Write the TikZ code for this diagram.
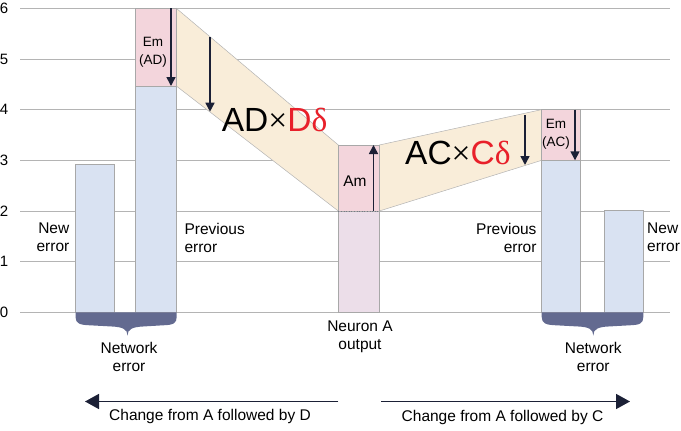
\documentclass[tikz,border=0pt]{standalone}
\usepackage{fontspec}
\setmainfont{Liberation Sans}
\newfontfamily\serifd{Liberation Serif}
\usetikzlibrary{arrows.meta}
\definecolor{gridc}{HTML}{B4B4B4}
\definecolor{barblue}{HTML}{D9E2F2}
\definecolor{barpink}{HTML}{F3D5DC}
\definecolor{lowpink}{HTML}{ECDEE9}
\definecolor{bandc}{HTML}{F9EDD9}
\definecolor{bracec}{HTML}{636A90}
\definecolor{edgec}{HTML}{A8A8A8}
\definecolor{arrowc}{HTML}{1B2036}
\definecolor{redd}{HTML}{E8202A}
\tikzset{
  gridline/.style={draw=gridc, line width=0.9pt},
  barb/.style={fill=barblue, draw=edgec, line width=0.8pt},
  barp/.style={fill=barpink, draw=edgec, line width=0.8pt},
  barl/.style={fill=lowpink, draw=edgec, line width=0.8pt},
  bandstyle/.style={fill=bandc, draw=gridc, line width=0.5pt},
  bracestyle/.style={fill=bracec, draw=none},
  varrow/.style={draw=arrowc, line width=1.6pt, -{Triangle[length=9pt,width=9pt]}},
  harrow/.style={draw=arrowc, line width=1.6pt, -{Triangle[length=14pt,width=15pt]}},
  lbl/.style={font=\fontsize{15.5}{18}\selectfont, inner sep=0pt, text=black},
  smalllbl/.style={font=\fontsize{13.5}{18}\selectfont, inner sep=0pt, align=center},
  axislbl/.style={font=\fontsize{15}{18}\selectfont, inner sep=0pt},
  biglbl/.style={font=\fontsize{33.5}{36}\selectfont, inner sep=0pt, anchor=base west},
}
\newcommand{\thintimes}{{\serifd ×}}
\begin{document}
\begin{tikzpicture}[x=1pt,y=-1pt]
\useasboundingbox (0,0) rectangle (681,431);
% grid lines and axis labels
\foreach \v/\yy in {0/312.3,1/261.6,2/211.0,3/160.3,4/109.6,5/59.0,6/8.3}{
  \draw[gridline] (20,\yy) -- (670,\yy);
  \node[axislbl] (ax\v) at (4,\yy) {\v};
}
% bands
\path[bandstyle] (176.3,8.3) -- (338.3,145) -- (338.3,211) -- (176.3,86) -- cycle;
\path[bandstyle] (379.3,145) -- (541.7,109.6) -- (541.7,160.3) -- (379.3,211) -- cycle;
% left bars
\path[barb] (75.3,312.3) rectangle (114.3,164.3);
\path[barb] (135.3,312.3) rectangle (176.3,86);
\path[barp] (135.3,86) rectangle (176.3,8.3);
% Neuron A bar
\path[barl] (338.3,312.3) rectangle (379.3,211);
\path[barp] (338.3,211) rectangle (379.3,145);
\draw[arrowc!60, line width=0.6pt, dotted] (338.3,211) -- (379.3,211);
% right bars
\path[barb] (541.7,312.3) rectangle (580.3,160.3);
\path[barp] (541.7,160.3) rectangle (580.3,109.6);
\path[barb] (604.7,312.3) rectangle (643.3,210.7);
% braces
\path[bracestyle] (75.5,312.3) -- (75.5,317) .. controls (75.5,323.5) and (80,325) .. (90,325.3)
  -- (112,326.5) .. controls (122,327) and (127.5,329) .. (127.5,335.5)
  .. controls (127.5,329) and (133,327) .. (143,326.5)
  -- (163,325.3) .. controls (173,325) and (176.7,323.5) .. (176.7,317) -- (176.7,312.3) -- cycle;
\path[bracestyle] (541.7,312.3) -- (541.7,317) .. controls (541.7,323.5) and (546.2,325) .. (556.2,325.3)
  -- (578.3,326.5) .. controls (588.3,327) and (593.3,329) .. (593.3,335.5)
  .. controls (593.3,329) and (598.3,327) .. (608.3,326.5)
  -- (629.6,325.3) .. controls (639.6,325) and (643.3,323.5) .. (643.3,317) -- (643.3,312.3) -- cycle;
% arrow end points
\coordinate (emadS) at (171,8.3);
\coordinate (emadE) at (171,86);
\coordinate (band1S) at (210,37);
\coordinate (band1E) at (210,111.7);
\coordinate (amS) at (373.5,211);
\coordinate (amE) at (373.5,145);
\coordinate (band2S) at (525,115);
\coordinate (band2E) at (525,165);
\coordinate (emacS) at (575,109.6);
\coordinate (emacE) at (575,160.3);
\coordinate (ldS) at (338.3,401.5);
\coordinate (ldE) at (85,401.5);
\coordinate (rcS) at (381,401.5);
\coordinate (rcE) at (630,401.5);
\draw[varrow] (emadS) -- (emadE);
\draw[varrow] (band1S) -- (band1E);
\draw[varrow] (amS) -- (amE);
\draw[varrow] (band2S) -- (band2E);
\draw[varrow] (emacS) -- (emacE);
\draw[harrow] (ldS) -- (ldE);
\draw[harrow] (rcS) -- (rcE);
% texts
\node[smalllbl] (emad) at (153,52) {Em\\(AD)};
\node[smalllbl] (emac) at (556,134.5) {Em\\(AC)};
\node[lbl] (am) at (355,180.7) {Am};
\node[biglbl] (adtxt) at (221.7,131.7) {AD\thintimes\textcolor{redd}{D{\serifd δ}}};
\node[biglbl] (actxt) at (405,164) {AC\thintimes\textcolor{redd}{C{\serifd δ}}};
\node[lbl, align=right, anchor=east] (lnew) at (69.5,237.5) {New\\error};
\node[lbl, align=left, anchor=west] (lprev) at (184.3,237.5) {Previous\\error};
\node[lbl, align=right, anchor=east] (rprev) at (536.7,237.5) {Previous\\error};
\node[lbl, align=left, anchor=west] (rnew) at (647,237.5) {New\\error};
\node[lbl, align=center] (neuron) at (360,337) {Neuron A\\output};
\node[lbl, align=center] (lnet) at (129,357) {Network\\error};
\node[lbl, align=center] (rnet) at (593.3,357) {Network\\error};
\node[lbl] (chd) at (210,416.5) {Change from A followed by D};
\node[lbl] (chc) at (502.5,417) {Change from A followed by C};
\end{tikzpicture}
\end{document}
